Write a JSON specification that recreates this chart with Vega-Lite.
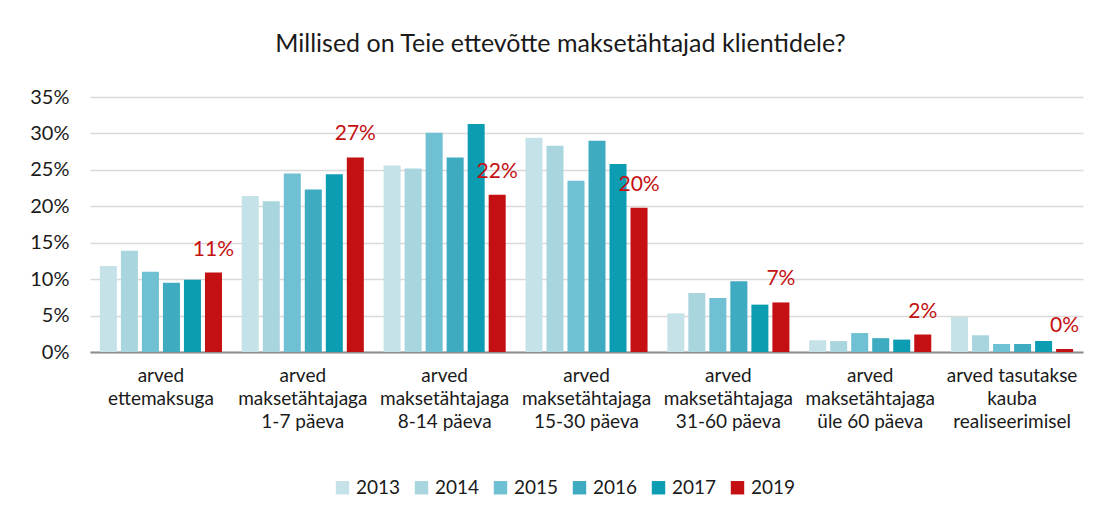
{
  "$schema": "https://vega.github.io/schema/vega-lite/v6.json",
  "width": 993,
  "height": 255,
  "autosize": {"type": "none"},
  "padding": {"left": 90, "top": 97, "right": 19, "bottom": 156},
  "background": "white",
  "title": {
    "text": "Millised on Teie ettevõtte maksetähtajad klientidele?",
    "fontSize": 25,
    "font": "Lato",
    "fontWeight": "normal",
    "color": "#1a1a1a",
    "anchor": "middle",
    "offset": 30,
    "dx": -26
  },
  "config": {
    "view": {"stroke": null},
    "font": "Lato",
    "axis": {"labelFont": "Lato", "labelColor": "#1a1a1a"},
    "legend": {"labelFont": "Lato", "labelColor": "#1a1a1a"}
  },
  "data": {
    "values": [
      {"cat": "arved|ettemaksuga", "year": "2013", "value": 0.118},
      {"cat": "arved|ettemaksuga", "year": "2014", "value": 0.139},
      {"cat": "arved|ettemaksuga", "year": "2015", "value": 0.110},
      {"cat": "arved|ettemaksuga", "year": "2016", "value": 0.095},
      {"cat": "arved|ettemaksuga", "year": "2017", "value": 0.099},
      {"cat": "arved|ettemaksuga", "year": "2019", "value": 0.109},
      {"cat": "arved|maksetähtajaga|1-7 päeva", "year": "2013", "value": 0.214},
      {"cat": "arved|maksetähtajaga|1-7 päeva", "year": "2014", "value": 0.207},
      {"cat": "arved|maksetähtajaga|1-7 päeva", "year": "2015", "value": 0.245},
      {"cat": "arved|maksetähtajaga|1-7 päeva", "year": "2016", "value": 0.223},
      {"cat": "arved|maksetähtajaga|1-7 päeva", "year": "2017", "value": 0.244},
      {"cat": "arved|maksetähtajaga|1-7 päeva", "year": "2019", "value": 0.267},
      {"cat": "arved|maksetähtajaga|8-14 päeva", "year": "2013", "value": 0.256},
      {"cat": "arved|maksetähtajaga|8-14 päeva", "year": "2014", "value": 0.252},
      {"cat": "arved|maksetähtajaga|8-14 päeva", "year": "2015", "value": 0.301},
      {"cat": "arved|maksetähtajaga|8-14 päeva", "year": "2016", "value": 0.267},
      {"cat": "arved|maksetähtajaga|8-14 päeva", "year": "2017", "value": 0.313},
      {"cat": "arved|maksetähtajaga|8-14 päeva", "year": "2019", "value": 0.216},
      {"cat": "arved|maksetähtajaga|15-30 päeva", "year": "2013", "value": 0.294},
      {"cat": "arved|maksetähtajaga|15-30 päeva", "year": "2014", "value": 0.283},
      {"cat": "arved|maksetähtajaga|15-30 päeva", "year": "2015", "value": 0.235},
      {"cat": "arved|maksetähtajaga|15-30 päeva", "year": "2016", "value": 0.290},
      {"cat": "arved|maksetähtajaga|15-30 päeva", "year": "2017", "value": 0.258},
      {"cat": "arved|maksetähtajaga|15-30 päeva", "year": "2019", "value": 0.198},
      {"cat": "arved|maksetähtajaga|31-60 päeva", "year": "2013", "value": 0.053},
      {"cat": "arved|maksetähtajaga|31-60 päeva", "year": "2014", "value": 0.081},
      {"cat": "arved|maksetähtajaga|31-60 päeva", "year": "2015", "value": 0.074},
      {"cat": "arved|maksetähtajaga|31-60 päeva", "year": "2016", "value": 0.097},
      {"cat": "arved|maksetähtajaga|31-60 päeva", "year": "2017", "value": 0.065},
      {"cat": "arved|maksetähtajaga|31-60 päeva", "year": "2019", "value": 0.068},
      {"cat": "arved|maksetähtajaga|üle 60 päeva", "year": "2013", "value": 0.016},
      {"cat": "arved|maksetähtajaga|üle 60 päeva", "year": "2014", "value": 0.015},
      {"cat": "arved|maksetähtajaga|üle 60 päeva", "year": "2015", "value": 0.026},
      {"cat": "arved|maksetähtajaga|üle 60 päeva", "year": "2016", "value": 0.019},
      {"cat": "arved|maksetähtajaga|üle 60 päeva", "year": "2017", "value": 0.017},
      {"cat": "arved|maksetähtajaga|üle 60 päeva", "year": "2019", "value": 0.024},
      {"cat": "arved tasutakse|kauba|realiseerimisel", "year": "2013", "value": 0.048},
      {"cat": "arved tasutakse|kauba|realiseerimisel", "year": "2014", "value": 0.023},
      {"cat": "arved tasutakse|kauba|realiseerimisel", "year": "2015", "value": 0.011},
      {"cat": "arved tasutakse|kauba|realiseerimisel", "year": "2016", "value": 0.011},
      {"cat": "arved tasutakse|kauba|realiseerimisel", "year": "2017", "value": 0.015},
      {"cat": "arved tasutakse|kauba|realiseerimisel", "year": "2019", "value": 0.004}
    ]
  },
  "encoding": {
    "x": {
      "field": "cat",
      "type": "nominal",
      "sort": null,
      "scale": {"paddingInner": 0, "paddingOuter": 0},
      "axis": {
        "title": null,
        "labelAngle": 0,
        "labelExpr": "split(datum.label, '|')",
        "labelFontSize": 19,
        "labelLineHeight": 23,
        "labelPadding": 14,
        "ticks": false,
        "domainColor": "#8c8c8c",
        "domainWidth": 2,
        "labelLimit": 200
      }
    },
    "xOffset": {
      "field": "year",
      "type": "nominal",
      "scale": {"paddingInner": 0.19, "paddingOuter": 0.47}
    },
    "y": {
      "field": "value",
      "type": "quantitative",
      "scale": {"domain": [0, 0.35]},
      "axis": {
        "title": null,
        "format": ".0%",
        "values": [0, 0.05, 0.1, 0.15, 0.2, 0.25, 0.3, 0.35],
        "labelOverlap": false,
        "domain": false,
        "ticks": false,
        "labelFontSize": 20,
        "labelPadding": 21,
        "gridColor": "#d9d9d9",
        "gridWidth": 1.5
      }
    }
  },
  "layer": [
    {
      "mark": {"type": "bar"},
      "encoding": {
        "color": {
          "field": "year",
          "type": "nominal",
          "scale": {
            "domain": ["2013", "2014", "2015", "2016", "2017", "2019"],
            "range": ["#c5e2e9", "#a9d5df", "#6ec0d2", "#3fabc0", "#0d9db2", "#c41012"]
          },
          "legend": {
            "title": null,
            "orient": "none",
            "legendX": 243,
            "legendY": 381,
            "direction": "horizontal",
            "columns": 6,
            "symbolType": "square",
            "symbolSize": 180,
            "symbolStrokeWidth": 0,
            "labelFontSize": 19,
            "labelOffset": 4,
            "columnPadding": 11
          }
        }
      }
    },
    {
      "transform": [{"filter": "datum.year == '2019'"}],
      "mark": {
        "type": "text",
        "baseline": "alphabetic",
        "dy": -17,
        "fontSize": 21,
        "color": "#c41012"
      },
      "encoding": {
        "text": {"field": "value", "type": "quantitative", "format": ".0%"}
      }
    }
  ]
}
